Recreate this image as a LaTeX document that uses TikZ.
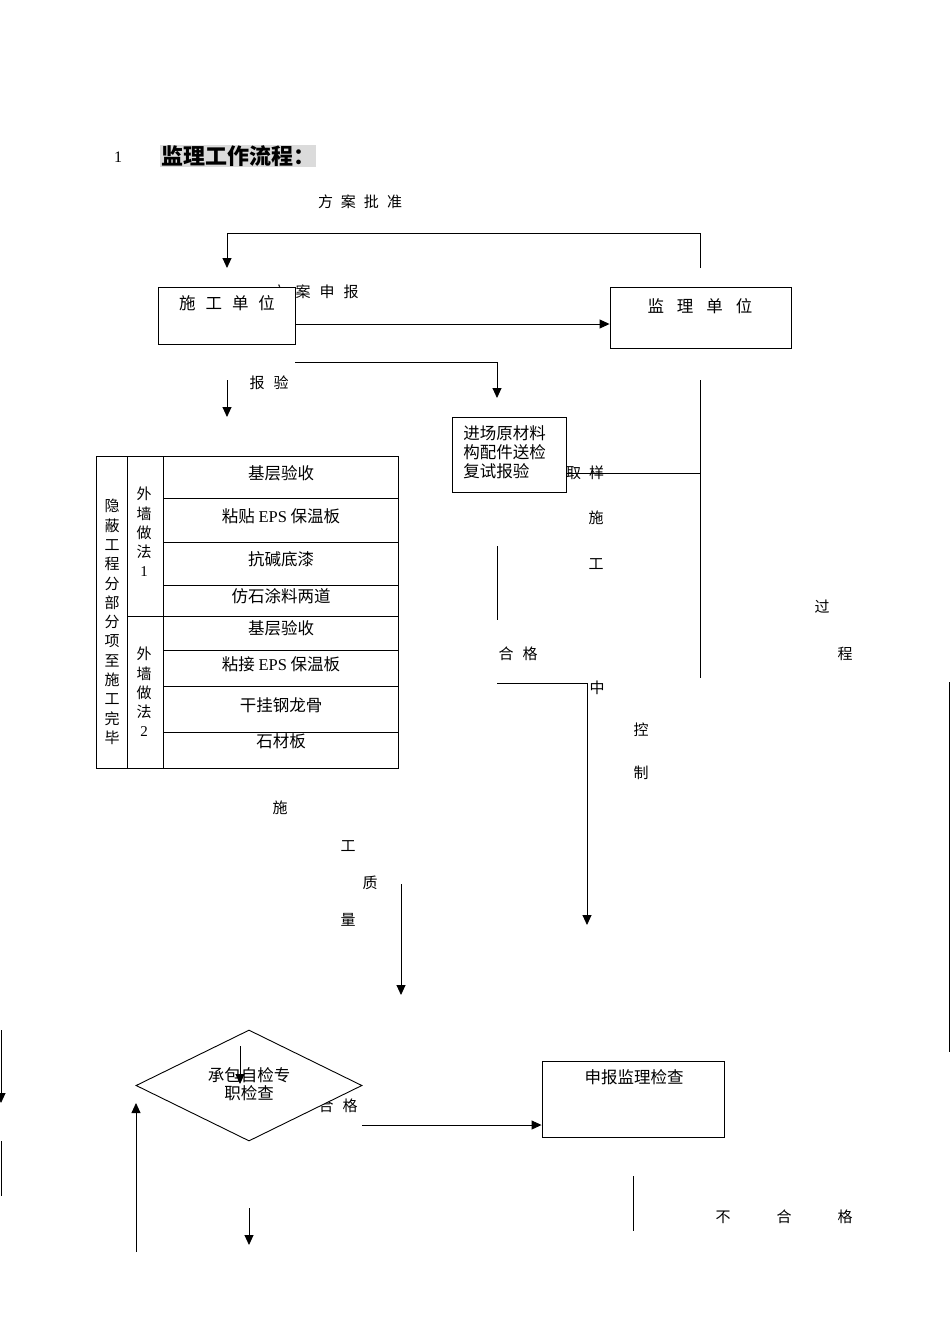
\documentclass[tikz,border=0pt]{standalone}
\usepackage{fontspec}
\setmainfont{Liberation Serif}
\newfontfamily\cjk{Noto Sans CJK SC}
\usetikzlibrary{arrows.meta,shapes.geometric}
\newcommand\mygap[1]{\hspace{#1pt}}
\begin{document}
\begin{tikzpicture}[x=1pt,y=-1pt,line width=0.9pt,
  >={Triangle[length=10pt,width=9pt]},
  lbl/.style={inner sep=0pt,font=\cjk\fontsize{15}{17}\selectfont},
  boxtxt/.style={inner sep=0pt,font=\cjk\fontsize{16.5}{18}\selectfont},
  tbl/.style={inner sep=0pt,font=\cjk\fontsize{16.5}{18}\selectfont},
  coltxt/.style={inner sep=0pt,align=center,font=\cjk\fontsize{15}{19.3}\selectfont},
  boxn/.style={draw,fill=white,inner sep=0pt}]
\useasboundingbox (0,0) rectangle (950,1344);

% title
\node[inner sep=0pt,font=\fontsize{16}{18}\selectfont] (num) at (118,157) {1};
\node[inner sep=0pt,anchor=west,fill=black!14,minimum height=22pt,inner xsep=1pt,
  font=\cjk\bfseries\fontsize{22}{24}\selectfont] (title) at (160,156) {监理工作流程：};

% top labels
\node[lbl] (pz) at (360,202) {方\mygap{8}案\mygap{8}批\mygap{8}准};
\node[lbl] (sbl) at (315,292) {方\mygap{9}案\mygap{9}申\mygap{9}报};

% boxes
\node[boxn,minimum width=137pt,minimum height=57pt] (sg) at (226.5,315.5) {};
\node[boxtxt] (sgt) at (227,303) {施\mygap{10}工\mygap{10}单\mygap{10}位};
\node[boxn,minimum width=181pt,minimum height=61pt] (jl) at (700.5,317.5) {};
\node[boxtxt] (jlt) at (700,306) {监\mygap{13}理\mygap{13}单\mygap{13}位};

% top loop
\coordinate (lpA) at (700,268);
\coordinate (lpB) at (227,268);
\draw[->] (lpA) -- (700,233) -- (227,233) -- (lpB);
% 方案申报 arrow
\draw[->] (sg.east |- 0,324) -- (jl.west |- 0,324);

% branch to materials box
\coordinate (brA) at (295,362);
\coordinate (brB) at (497,398);
\draw[->] (brA) -| (brB);

\node[lbl] (by) at (269,383) {报\mygap{9}验};
\coordinate (byA) at (227,380);
\coordinate (byB) at (227,417);
\draw[->] (byA) -- (byB);

% materials box
\node[boxn,minimum width=114pt,minimum height=75pt] (jc) at (509,454.5) {};
\node[inner sep=0pt,anchor=west,align=left,font=\cjk\fontsize{16.5}{19}\selectfont] (jct) at (463,452)
  {进场原材料\\构配件送检\\复试报验};

% right vertical line and branch
\coordinate (vA) at (700,380);
\coordinate (vB) at (700,678);
\draw (vA) -- (vB);
\coordinate (vM) at (700,473);
\draw (jc.east |- vM) -- (vM);
\node[lbl] (qy) at (585,473) {取\mygap{8}样};

\node[lbl] (c1) at (596,518) {施};
\node[lbl] (c2) at (596,564) {工};
\node[lbl] (c3) at (597,688) {中};
\node[lbl] (c4) at (641,730) {控};
\node[lbl] (c5) at (641,773) {制};
\node[lbl] (c6) at (822,607) {过};
\node[lbl] (c7) at (845,654) {程};

\coordinate (sA) at (497,546);
\coordinate (sB) at (497,620);
\draw (sA) -- (sB);
\node[lbl] (hg1) at (518,654) {合\mygap{9}格};
\coordinate (hA) at (497,683);
\coordinate (hB) at (587,925);
\draw[->] (hA) -| (hB);

% table
\draw (96,456) rectangle (398,768);
\draw (127,456) -- (127,768);
\draw (163,456) -- (163,768);
\foreach \yy in {498,542,585,650,686,732} \draw (163,\yy) -- (398,\yy);
\draw (127,616) -- (398,616);
\node[coltxt] (col1) at (112,622) {隐\\蔽\\工\\程\\分\\部\\分\\项\\至\\施\\工\\完\\毕};
\node[coltxt] (col2a) at (144,532) {外\\墙\\做\\法\\{\rmfamily 1}};
\node[coltxt] (col2b) at (144,692) {外\\墙\\做\\法\\{\rmfamily 2}};
\node[tbl] (r1) at (281,473) {基层验收};
\node[tbl] (r2) at (281,516) {粘贴 {\rmfamily EPS} 保温板};
\node[tbl] (r3) at (281,559) {抗碱底漆};
\node[tbl] (r4) at (281,596) {仿石涂料两道};
\node[tbl] (r5) at (281,628) {基层验收};
\node[tbl] (r6) at (281,664) {粘接 {\rmfamily EPS} 保温板};
\node[tbl] (r7) at (281,705) {干挂钢龙骨};
\node[tbl] (r8) at (281,741) {石材板};

% 施工质量
\node[lbl] (q1) at (280,808) {施};
\node[lbl] (q2) at (348,846) {工};
\node[lbl] (q3) at (370,883) {质};
\node[lbl] (q4) at (348,920) {量};
\coordinate (qA) at (401,884);
\coordinate (qB) at (401,995);
\draw[->] (qA) -- (qB);

% diamond
\node[lbl] (hg2) at (338,1106) {合\mygap{9}格};
\node[diamond,draw,fill=white,inner sep=0pt,minimum width=226pt,minimum height=111pt,aspect=2] (dia) at (249,1085.5) {};
\node[inner sep=0pt,align=center,font=\cjk\fontsize{16.5}{18}\selectfont] (diat) at (249,1084) {承包自检专\\职检查};
\coordinate (dA) at (240,1046);
\coordinate (dB) at (240,1084);
\draw[->] (dA) -- (dB);

\coordinate (dC) at (362,1125);
\node[boxn,minimum width=182pt,minimum height=76pt] (sb) at (633,1099) {};
\node[boxtxt] (sbt) at (634,1077) {申报监理检查};
\draw[->] (dC) -- (sb.west |- dC);

\coordinate (uA) at (633,1176);
\coordinate (uB) at (633,1231);
\draw (uA) -- (uB);
\node[lbl] (bhg) at (784,1217) {不\mygap{46}合\mygap{46}格};

\coordinate (eA) at (249,1208);
\coordinate (eB) at (249,1245);
\draw[->] (eA) -- (eB);
\coordinate (fA) at (136,1252);
\coordinate (fB) at (136,1103);
\draw[->] (fA) -- (fB);

% edge fragments
\coordinate (gA) at (1,1030);
\coordinate (gB) at (1,1103);
\draw[->] (gA) -- (gB);
\coordinate (gC) at (1,1141);
\coordinate (gD) at (1,1196);
\draw (gC) -- (gD);
\coordinate (kA) at (949,682);
\coordinate (kB) at (949,1052);
\draw (kA) -- (kB);
\end{tikzpicture}
\end{document}
